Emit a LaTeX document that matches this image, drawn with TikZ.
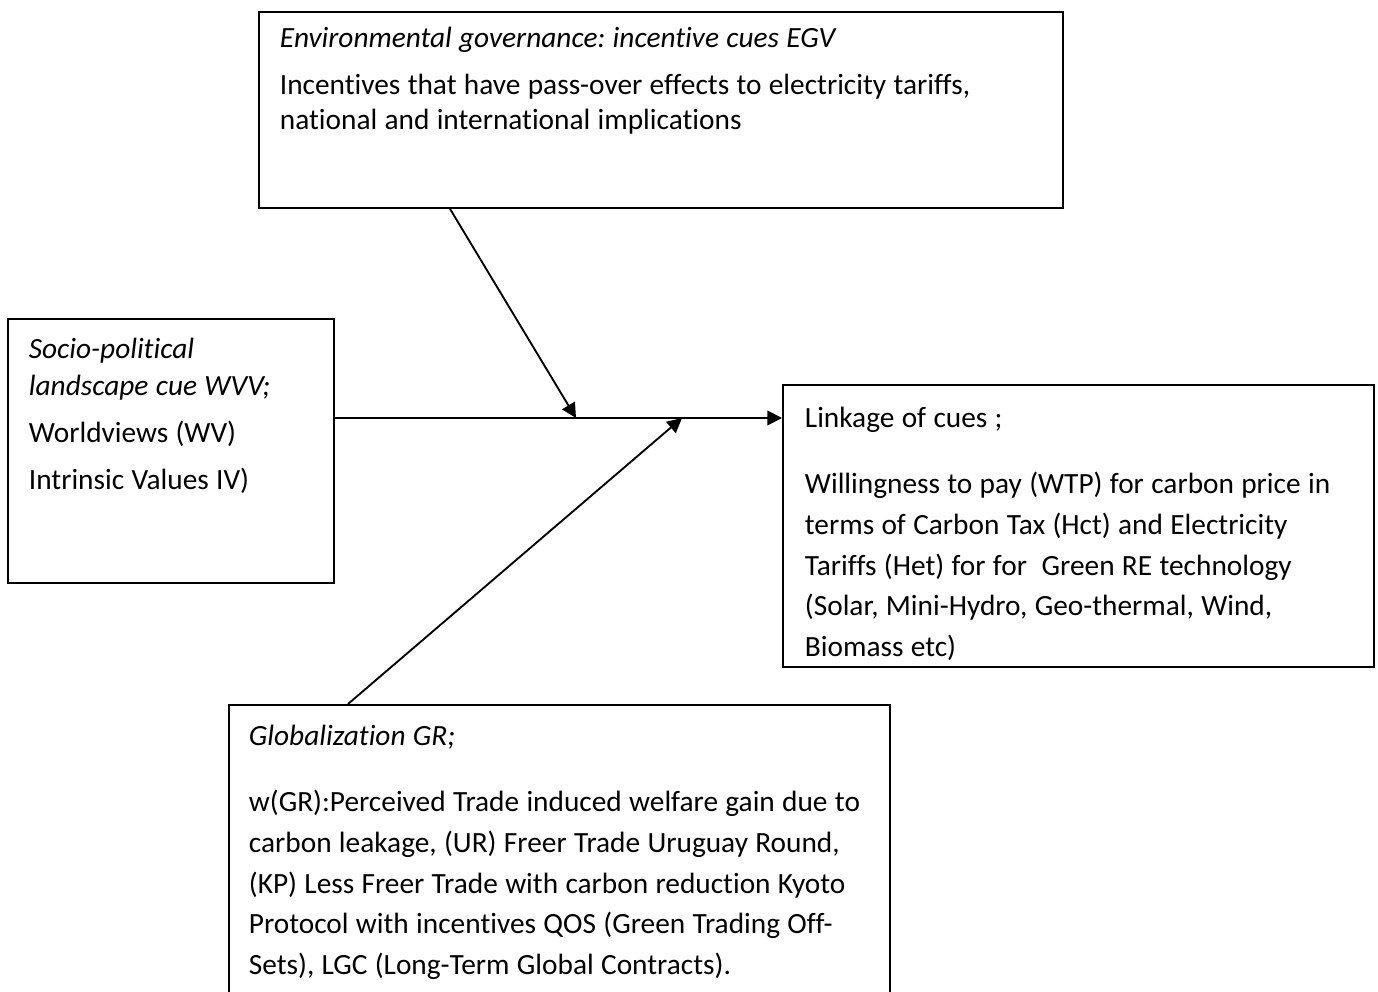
\documentclass[tikz,border=0pt]{standalone}
\usepackage{fontspec}
\setmainfont{Carlito}[Ligatures=NoCommon]
\usetikzlibrary{arrows.meta}

\begin{document}
\frenchspacing
\begin{tikzpicture}[x=0.75pt,y=-0.75pt,line width=1.4pt,
  cuebox/.style={draw,anchor=north west,inner sep=0pt},
  cuetext/.style={anchor=base west,inner sep=0pt,align=left,
    font=\fontsize{22}{30.4}\selectfont,
    execute at begin node={\spaceskip=5.5pt plus 1pt minus 1pt\xspaceskip=5.5pt}},
  cuearrow/.style={-{Triangle[length=11pt,width=11pt]}}]
\useasboundingbox (0,0) rectangle (1378,992);
\clip (0,0) rectangle (1378,992);
% frames
\node[cuebox,minimum width=603pt,minimum height=147pt] (egv) at (258,11) {};
\node[cuebox,minimum width=244.5pt,minimum height=198pt] (wvv) at (7,318) {};
\node[cuebox,minimum width=443.25pt,minimum height=211.5pt] (lnk) at (782,384) {};
\node[cuebox,minimum width=495.75pt,minimum height=240pt] (gr) at (228,704) {};
% texts
\node[cuetext,text width=580pt,font=\fontsize{22}{26.25}\selectfont] (egvtext)
  at ([shift={(21,36)}]egv.north west)
  {\textit{Environmental governance: incentive cues EGV}\\[9pt]
   Incentives that have pass-over effects to electricity tariffs,\\
   national and international implications};
\node[cuetext,text width=230pt,font=\fontsize{22}{27.75}\selectfont] (wvvtext)
  at ([shift={(21,40)}]wvv.north west)
  {\textit{Socio-political}\\
   \textit{landscape cue WVV;}\\[7.5pt]
   Worldviews (WV)\\[7.5pt]
   Intrinsic Values IV)};
\node[cuetext,text width=430pt] (lnktext) at ([shift={(22,43)}]lnk.north west)
  {Linkage of cues ;\\[19.8pt]
   Willingness to pay (WTP) for carbon price in\\
   terms of Carbon Tax (Hct) and Electricity\\
   Tariffs (Het) for for~ Green RE technology\\
   (Solar, Mini-Hydro, Geo-thermal, Wind,\\
   Biomass etc)};
\node[cuetext,text width=480pt] (grtext) at ([shift={(20,41)}]gr.north west)
  {\textit{Globalization GR;}\\[19.8pt]
   w(GR):Perceived Trade induced welfare gain due to\\
   carbon leakage, (UR) Freer Trade Uruguay Round,\\
   (KP) Less Freer Trade with carbon reduction Kyoto\\
   Protocol with incentives QOS (Green Trading Off-\\
   Sets), LGC (Long-Term Global Contracts).};
% connectors
\coordinate (hub) at (0,418);
\coordinate (footE) at (450,0);
\coordinate (tipE) at (576,418);
\coordinate (footG) at (348,0);
\coordinate (tipG) at (682,418);
\draw[cuearrow] (wvv.east |- hub) -- (lnk.west |- hub);
\draw[cuearrow] (egv.south -| footE) -- (tipE);
\draw[cuearrow] (gr.north -| footG) -- (tipG);
\end{tikzpicture}
\end{document}
